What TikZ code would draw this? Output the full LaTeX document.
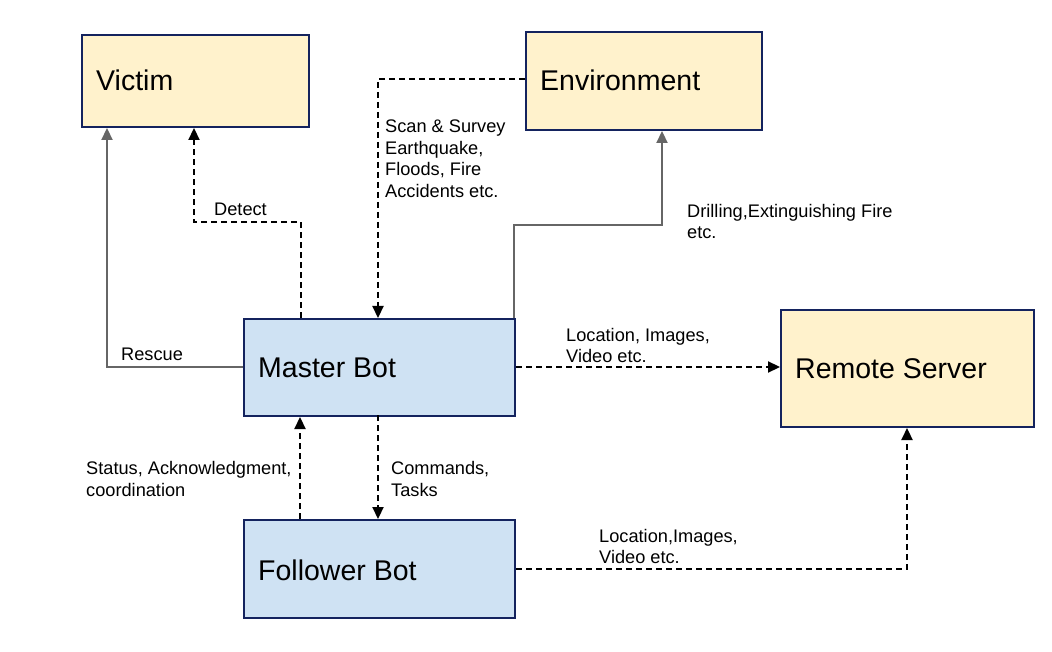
\documentclass[tikz,border=0pt]{standalone}
\usepackage{fontspec}
\setmainfont{Liberation Sans}
\usetikzlibrary{arrows.meta}
\definecolor{yfill}{HTML}{FFF2CC}
\definecolor{bfill}{HTML}{CFE2F3}
\definecolor{navy}{HTML}{14235E}
\definecolor{lgray}{HTML}{666666}
\tikzset{
  box/.style={draw=navy, line width=2pt, inner sep=0pt, anchor=north west},
  ybox/.style={box, fill=yfill},
  bbox/.style={box, fill=bfill},
  title/.style={font=\fontsize{28.5}{33}\selectfont, anchor=west, inner sep=0pt},
  lab/.style={font=\fontsize{18.2}{21.5}\selectfont, align=left, anchor=west, inner sep=0pt},
  tip/.style={-{Triangle[length=12pt,width=11pt]}},
  dline/.style={tip, line width=2.2pt, dash pattern=on 6pt off 4pt, black},
  gline/.style={tip, line width=2.2pt, lgray},
}
\begin{document}
\begin{tikzpicture}[x=1pt,y=-1pt]
\useasboundingbox (0,0) rectangle (1052,652);
% boxes
\node[ybox, minimum width=227pt, minimum height=92pt] (victim) at (81,34) {};
\node[ybox, minimum width=236pt, minimum height=98pt] (env) at (525,31) {};
\node[bbox, minimum width=271pt, minimum height=97pt] (master) at (243,318) {};
\node[ybox, minimum width=253pt, minimum height=117pt] (server) at (780,309) {};
\node[bbox, minimum width=271pt, minimum height=98pt] (follower) at (243,519) {};
% titles
\node[title] (tv) at (96,80) {Victim};
\node[title] (te) at (540,80) {Environment};
\node[title] (tm) at (258,368) {Master Bot};
\node[title] (ts) at (795,369) {Remote Server};
\node[title] (tf) at (258,570) {Follower Bot};
% connector corners
\coordinate (rc) at (107,367);
\coordinate (dc1) at (301,222);
\coordinate (dc2) at (194,222);
\coordinate (ec) at (378,79);
\coordinate (mc1) at (514,225);
\coordinate (mc2) at (662,225);
\coordinate (fc) at (907,569);
% connectors
\draw[gline] (master.west |- 0,367) -- (rc) -- (rc |- victim.south);
\draw[dline] (dc1 |- master.north) -- (dc1) -- (dc2) -- (dc2 |- victim.south);
\draw[dline] (env.west |- ec) -- (ec) -- (ec |- master.north);
\draw[gline] (mc1 |- master.north) -- (mc1) -- (mc2) -- (mc2 |- env.south);
\draw[dline] (master.east |- 0,367) -- (server.west |- 0,367);
\draw[dline] (378,415) coordinate (m1) -- (m1 |- follower.north);
\draw[dline] (300,519) coordinate (f1) -- (f1 |- master.south);
\draw[dline] (follower.east |- fc) -- (fc) -- (fc |- server.south);
% labels
\node[lab] (l1) at (385,158.5) {Scan \& Survey\\Earthquake,\\Floods, Fire\\Accidents etc.};
\node[lab] (l2) at (214,209) {Detect};
\node[lab] (l3) at (687,221.5) {Drilling,Extinguishing Fire\\etc.};
\node[lab] (l4) at (121,354) {Rescue};
\node[lab] (l5) at (566,345.5) {Location, Images,\\Video etc.};
\node[lab] (l6) at (86,479) {Status, Acknowledgment,\\coordination};
\node[lab] (l7) at (391,479) {Commands,\\Tasks};
\node[lab] (l8) at (599,546.5) {Location,Images,\\Video etc.};
\end{tikzpicture}
\end{document}
